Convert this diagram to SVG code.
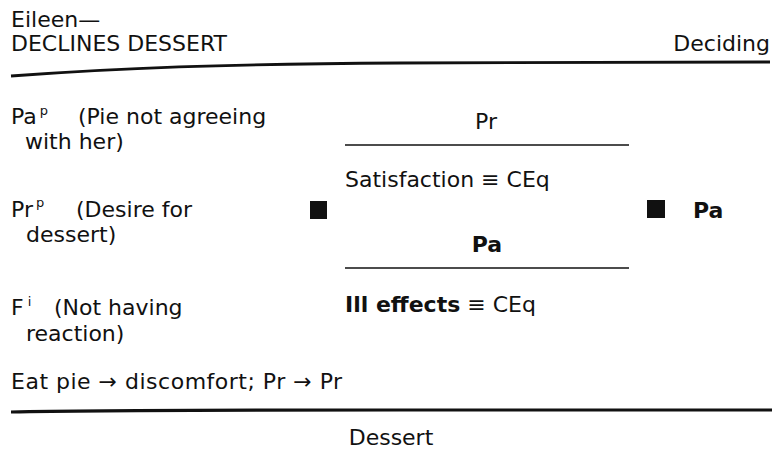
<svg xmlns="http://www.w3.org/2000/svg" width="774" height="450" viewBox="0 0 774 450">
  <style>
    text { font-family: "DejaVu Sans", "Liberation Sans", sans-serif; font-size: 22px; fill: #111; }
    .b { font-weight: bold; }
    .sup { font-size: 13px; }
    .rule { stroke: #111; fill: none; }
  </style>
  <rect width="774" height="450" fill="#fff"/>

  <!-- header -->
  <g id="header">
    <text x="11" y="27">Eileen—</text>
    <text x="11" y="51">DECLINES DESSERT</text>
    <text x="770" y="51" text-anchor="end">Deciding</text>
    <path class="rule" stroke-width="2.8" d="M11,76 C120,68 220,64 400,63 L770,62"/>
  </g>

  <!-- left-hand factors -->
  <g id="factors">
    <text x="11" y="124">Pa<tspan class="sup" dx="3" dy="-9">p</tspan><tspan x="78" y="124">(Pie not agreeing</tspan></text>
    <text x="25" y="149">with her)</text>
    <text x="11" y="217">Pr<tspan class="sup" dx="3" dy="-10">p</tspan><tspan x="76" y="217">(Desire for</tspan></text>
    <text x="26" y="242">dessert)</text>
    <text x="11" y="315">F<tspan class="sup" dx="4" dy="-9">i</tspan><tspan x="54" y="315">(Not having</tspan></text>
    <text x="26" y="341">reaction)</text>
  </g>

  <!-- central ratio -->
  <g id="ratio">
    <rect x="310" y="201" width="17" height="18" fill="#111"/>
    <text x="486" y="129" text-anchor="middle">Pr</text>
    <line class="rule" stroke-width="1.7" x1="345" y1="145" x2="629" y2="145"/>
    <text x="345" y="187">Satisfaction ≡ CEq</text>
    <text class="b" x="487" y="252" text-anchor="middle">Pa</text>
    <line class="rule" stroke-width="1.7" x1="345" y1="268" x2="629" y2="268"/>
    <text x="345" y="312"><tspan class="b">Ill effects</tspan> ≡ CEq</text>
  </g>

  <!-- outcome -->
  <g id="outcome">
    <rect x="647" y="200" width="18" height="18" fill="#111"/>
    <text class="b" x="693" y="218">Pa</text>
  </g>

  <!-- footer -->
  <g id="footer">
    <text x="11" y="389" letter-spacing="0.5">Eat pie → discomfort; Pr → Pr</text>
    <path class="rule" stroke-width="3.2" d="M11,412 C100,410 200,410 400,410 L772,410"/>
    <text x="391" y="445" text-anchor="middle">Dessert</text>
  </g>
</svg>
